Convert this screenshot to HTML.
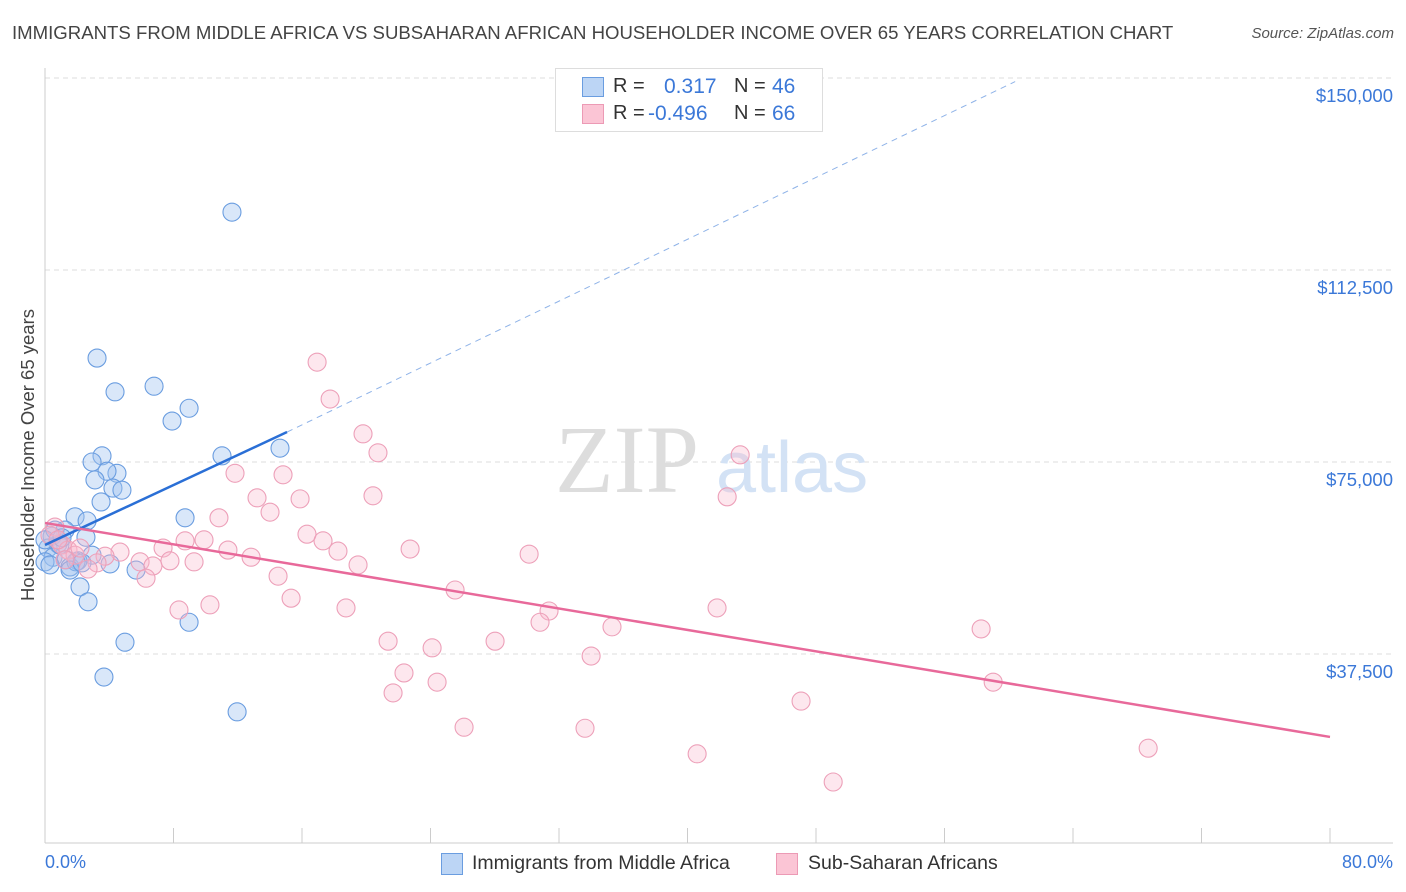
<!DOCTYPE html>
<html><head><meta charset="utf-8"><style>
body{margin:0;background:#fff;font-family:"Liberation Sans",sans-serif;}
#wrap{position:relative;width:1406px;height:892px;overflow:hidden;}
.t{position:absolute;white-space:nowrap;}
</style></head><body>
<div id="wrap">
<div class="t" style="left:12px;top:22px;font-size:18.6px;color:#444;">IMMIGRANTS FROM MIDDLE AFRICA VS SUBSAHARAN AFRICAN HOUSEHOLDER INCOME OVER 65 YEARS CORRELATION CHART</div>
<div class="t" style="right:12px;top:25px;font-size:15px;color:#555;font-style:italic;">Source: ZipAtlas.com</div>
<svg id="svg" width="1406" height="892" style="position:absolute;left:0;top:0"></svg>
<div class="t" style="left:28px;top:455px;font-size:18.5px;color:#444;transform:translate(-50%,-50%) rotate(-90deg);">Householder Income Over 65 years</div>
<div style="position:absolute;left:555px;top:68px;width:266px;height:62px;border:1px solid #ddd;background:#fff;font-size:20px;color:#333;">
  <div style="position:absolute;left:26px;top:8px;width:20px;height:18px;background:#bcd5f5;border:1px solid #6a9de0;"></div>
  <div class="t" style="left:57px;top:6px;">R = </div><div class="t" style="left:108px;top:6px;color:#3b78d8;font-size:21px;">0.317</div>
  <div class="t" style="left:178px;top:6px;">N = </div><div class="t" style="left:216px;top:6px;color:#3b78d8;font-size:21px;">46</div>
  <div style="position:absolute;left:26px;top:35px;width:20px;height:18px;background:#fbc5d5;border:1px solid #ec9ab5;"></div>
  <div class="t" style="left:57px;top:33px;">R = </div><div class="t" style="left:92px;top:33px;color:#3b78d8;font-size:21px;">-0.496</div>
  <div class="t" style="left:178px;top:33px;">N = </div><div class="t" style="left:216px;top:33px;color:#3b78d8;font-size:21px;">66</div>
</div>
<div class="t" style="left:45px;top:852px;font-size:18px;color:#3b78d8;">0.0%</div>
<div class="t" style="right:13px;top:852px;font-size:18px;color:#3b78d8;">80.0%</div>
<div style="position:absolute;left:441px;top:853px;width:20px;height:20px;background:#bcd5f5;border:1px solid #6a9de0;"></div>
<div class="t" style="left:472px;top:852px;font-size:19.5px;color:#333;">Immigrants from Middle Africa</div>
<div style="position:absolute;left:776px;top:853px;width:20px;height:20px;background:#fbc5d5;border:1px solid #ec9ab5;"></div>
<div class="t" style="left:808px;top:852px;font-size:19.5px;color:#333;">Sub-Saharan Africans</div>
</div>
<script>
var yTicks=[37500,75000,112500,150000];
var yTickLabels=["$37,500","$75,000","$112,500","$150,000"];
var blueX=[11.64,3.24,4.36,6.79,8.97,7.91,3.55,2.93,11.02,14.63,4.48,3.86,3.11,4.23,4.79,3.49,8.72,1.87,2.62,1.25,0.44,2.55,0.81,0.19,2.93,0.5,0.0,1.31,2.05,0.31,1.56,1.93,4.05,5.67,2.18,2.68,8.97,4.98,3.67,11.96,0.93,0.62,0,1.56,2.3,1.06];
var blueY=[123.8,95.3,88.7,89.8,85.5,83.0,76.2,75.0,76.2,77.7,72.8,73.2,71.5,69.9,69.5,67.2,64.1,64.3,63.5,61.7,60.5,60.3,59.0,58.2,56.8,56.4,55.5,55.9,55.7,54.9,54.5,55.5,55.1,53.9,50.6,47.7,43.7,39.8,33.0,26.2,58.8,61.7,59.8,53.9,55.3,60.2];
var pinkX=[16.94,17.75,19.8,20.73,43.28,11.83,14.82,13.2,15.88,20.42,42.47,10.83,14.01,16.31,17.31,9.9,8.72,18.24,22.73,30.14,7.35,11.39,12.83,4.67,3.74,5.92,7.78,9.28,6.72,3.24,2.68,19.49,14.51,6.29,15.32,8.34,10.27,18.74,25.53,31.38,41.84,30.82,35.3,28.02,21.36,24.1,34.0,58.28,22.35,24.41,59.03,21.67,47.07,26.09,33.62,40.6,68.68,49.07,0.62,1.06,1.43,0.31,1.87,0.81,2.18,1.25];
var pinkY=[94.5,87.3,80.5,76.8,76.4,72.8,72.5,68.0,67.8,68.4,68.2,64.1,65.2,60.9,59.6,59.8,59.6,57.6,58.0,57.0,58.2,57.8,56.4,57.4,56.6,55.5,55.7,55.5,54.7,55.3,54.1,54.9,52.7,52.3,48.4,46.1,47.1,46.5,50.0,45.9,46.5,43.7,42.8,40.0,40.0,38.7,37.1,42.4,33.8,32.0,32.0,29.9,28.3,23.2,23.0,18.0,19.1,12.5,62.3,58.8,57.8,60.7,56.8,59.8,58.2,55.9];
var blueTrendX=[0,15.07,60.4];
var blueTrendY=[58.8,80.85,149.3];
var pinkTrendX=[0,80];
var pinkTrendY=[63.1,21.3];
var NS="http://www.w3.org/2000/svg";
var svg=document.getElementById('svg');
function xs(v){return 45+v*16.0625;}
function ys(v){return 846-(v/150000)*768;}
function yk(v){return 846-(v/150)*768;}
function mk(t,a){var e=document.createElementNS(NS,t);for(var k in a){e.setAttribute(k,String(a[k]));}svg.appendChild(e);return e;}
for(var i=0;i<yTicks.length;i++){
 var g=mk('line',{x1:45,x2:1393,y1:ys(yTicks[i]),y2:ys(yTicks[i]),stroke:'#ddd','stroke-dasharray':'5,4'});
 
 
 var t=mk('text',{x:1393,y:ys(yTicks[i])+24,'text-anchor':'end','font-size':18.5,fill:'#3b78d8','font-family':'Liberation Sans, sans-serif'});
 t.textContent=yTickLabels[i];
 
 
}
var ya=mk('line',{x1:45,x2:45,y1:68,y2:843,stroke:'#ccc'});


var xa=mk('line',{x1:45,x2:1393,y1:843,y2:843,stroke:'#ccc'});


for(var j=1;j<=10;j++){var tk=mk('line',{x1:xs(j*8),x2:xs(j*8),y1:828,y2:843,stroke:'#ccc'});
 
 }
var wm=mk('text',{x:555,y:492,'font-size':96,fill:'#ddd','font-family':'Liberation Serif, serif'});wm.textContent='ZIP';


var wm2=mk('text',{x:716,y:492,'font-size':72,fill:'#d3e2f5','font-family':'Liberation Sans, sans-serif'});wm2.textContent='atlas';


for(var b=0;b<blueX.length;b++){var c=mk('circle',{cx:xs(blueX[b]),cy:yk(blueY[b]),r:9,fill:'rgba(160,196,240,0.4)',stroke:'#6a9de0','stroke-width':1.1});
 
 }
for(var p=0;p<pinkX.length;p++){var c2=mk('circle',{cx:xs(pinkX[p]),cy:yk(pinkY[p]),r:9,fill:'rgba(248,185,205,0.35)',stroke:'#eda0b9','stroke-width':1.1});
 
 }
var b1=mk('line',{x1:xs(blueTrendX[0]),y1:yk(blueTrendY[0]),x2:xs(blueTrendX[1]),y2:yk(blueTrendY[1]),stroke:'#2a6fd6','stroke-width':2.5});


var b2=mk('line',{x1:xs(blueTrendX[1]),y1:yk(blueTrendY[1]),x2:xs(blueTrendX[2]),y2:yk(blueTrendY[2]),stroke:'#8fb3e8','stroke-width':1,'stroke-dasharray':'6,5'});


var p1=mk('line',{x1:xs(pinkTrendX[0]),y1:yk(pinkTrendY[0]),x2:xs(pinkTrendX[1]),y2:yk(pinkTrendY[1]),stroke:'#e8699a','stroke-width':2.5});


</script>
</body></html>
